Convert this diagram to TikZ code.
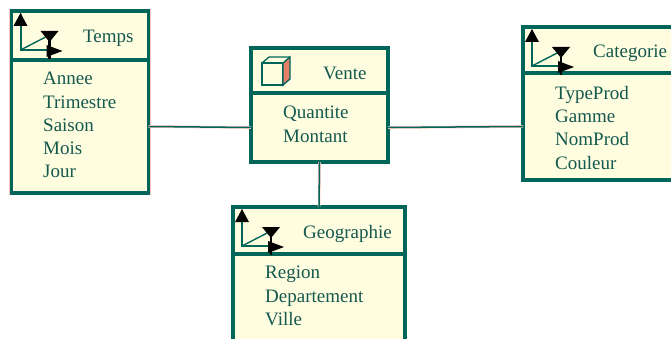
\documentclass[tikz,border=0pt]{standalone}
\usepackage{fontspec}
\setmainfont{Liberation Serif}
\usetikzlibrary{positioning}
\definecolor{boxline}{HTML}{00665A}
\definecolor{boxfill}{HTML}{FFFDE0}
\definecolor{boxhalo}{HTML}{FFC4BC}
\definecolor{boxtext}{HTML}{14584E}
\definecolor{cubeside}{HTML}{E4806A}
\begin{document}
\begin{tikzpicture}[x=1pt,y=-1pt,
        halo/.style={preaction={draw=boxhalo,line width=#1}},
        classhead/.style={shape=rectangle,draw=boxline,fill=boxfill,line width=3.2pt,outer sep=0pt,inner sep=0pt,anchor=north west,halo=4.6pt},
        classbody/.style={classhead,anchor=north,below=0pt of #1},
        classname/.style={text=boxtext,inner sep=0pt,anchor=west,yshift=-3pt,font=\fontsize{19}{23}\selectfont},
        classattr/.style={text=boxtext,inner sep=0pt,anchor=north west,align=left,font=\fontsize{19}{23.3}\selectfont},
        link/.style={draw=boxline,line width=1.5pt,halo=2.6pt},
        axes/.pic={
            \draw[boxline,line width=2pt] (9,3) -- (9,39) -- (40,39);
            \draw[boxline,line width=1.4pt] (9,39) -- (38,24);
            \draw[black,line width=2.4pt] (38,26) -- (38,48);
            \fill[black] (2,15) -- (16,15) -- (9,2) -- cycle;
            \fill[black] (29,20) -- (47,20) -- (38,31) -- cycle;
            \fill[black] (35,34) -- (51,40) -- (35,46) -- cycle;
        },
        cube/.pic={
            \draw[boxline,line width=1.3pt] (11,15) rectangle (32,37);
            \draw[boxline,fill=cubeside,line width=1.3pt] (32,15) -- (39,9) -- (39,31) -- (32,37) -- cycle;
            \draw[boxline,line width=1.3pt] (11,15) -- (18,9) -- (39,9);
        }]
    \useasboundingbox (0,0) rectangle (671,339);

    \node[classhead,minimum width=137pt,minimum height=49pt] (tempsHead) at (11.5,11) {};
    \node[classbody=tempsHead,minimum width=137pt,minimum height=133pt] (tempsBody) {};
    \node[classhead,minimum width=137pt,minimum height=45pt] (venteHead) at (251,48) {};
    \node[classbody=venteHead,minimum width=137pt,minimum height=69pt] (venteBody) {};
    \node[classhead,minimum width=172pt,minimum height=47pt] (geoHead) at (233,207) {};
    \node[classbody=geoHead,minimum width=172pt,minimum height=90pt] (geoBody) {};
    \node[classhead,minimum width=160pt,minimum height=46pt] (catHead) at (523,27) {};
    \node[classbody=catHead,minimum width=160pt,minimum height=107pt] (catBody) {};

    \node[classname,right=71.5pt of tempsHead.west] (tempsName) {Temps};
    \node[classname,right=72pt of venteHead.west] (venteName) {Vente};
    \node[classname,right=70pt of geoHead.west] (geoName) {Geographie};
    \node[classname,right=70pt of catHead.west] (catName) {Categorie};

    \node[classattr] (tempsAttr) at ([xshift=31.5pt,yshift=-12pt]tempsBody.north west) {Annee\\Trimestre\\Saison\\Mois\\Jour};
    \node[classattr] (venteAttr) at ([xshift=32pt,yshift=-13pt]venteBody.north west) {Quantite\\Montant};
    \node[classattr] (geoAttr) at ([xshift=32pt,yshift=-12pt]geoBody.north west) {Region\\Departement\\Ville};
    \node[classattr] (catAttr) at ([xshift=32pt,yshift=-13pt]catBody.north west) {TypeProd\\Gamme\\NomProd\\Couleur};

    \pic at (tempsHead.north west) {axes};
    \pic at (geoHead.north west) {axes};
    \pic at (catHead.north west) {axes};
    \pic at (venteHead.north west) {cube};

    \draw[link] (tempsBody.east) -- (venteBody.west);
    \draw[link] (venteBody.east) -- (catBody.west);
    \draw[link] (venteBody.south) -- (geoHead.north);
\end{tikzpicture}
\end{document}
